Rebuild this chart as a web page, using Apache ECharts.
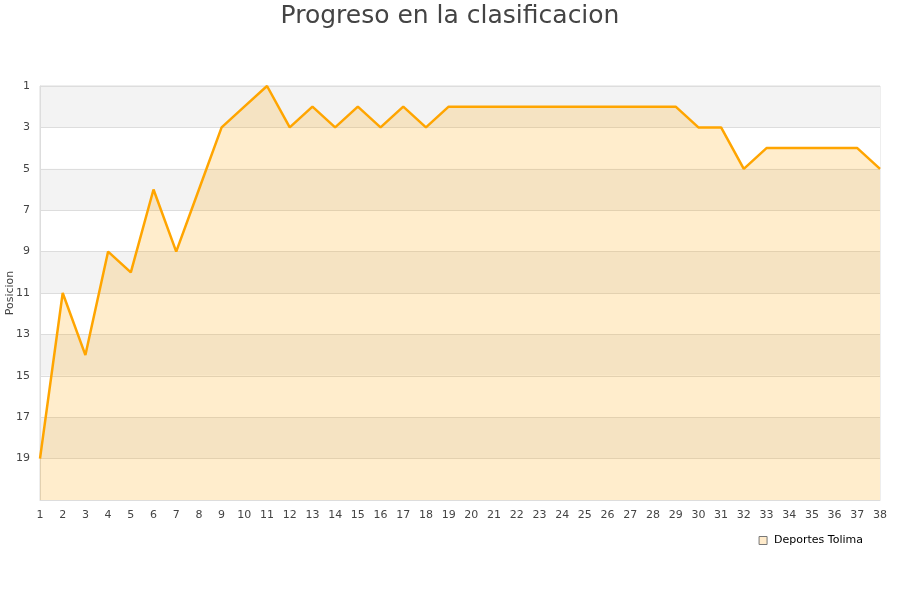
<!DOCTYPE html>
<html><head><meta charset="utf-8">
<script src="https://cdn.jsdelivr.net/npm/echarts@6/dist/echarts.min.js"></script>
<style>html,body{margin:0;padding:0;background:#fff}#c{width:900px;height:600px}</style>
</head><body><div id="c"></div>
<script>
var jornadas = [];
for (var i = 1; i <= 38; i++) jornadas.push(String(i));
var posiciones = [19,11,14,9,10,6,9,6,3,2,1,3,2,3,2,3,2,3,2,2,2,2,2,2,2,2,2,2,2,3,3,5,4,4,4,4,4,5];
var equipo = 'Deportes Tolima';
var chart = echarts.init(document.getElementById('c'));
chart.setOption({
  animation: false,
  title: { text: 'Progreso en la clasificacion', left: 'center', top: -1,
    textStyle: { fontFamily: 'DejaVu Sans', fontSize: 25, fontWeight: 'normal', color: '#444' } },
  grid: { left: 40, right: 20, top: 86, bottom: 100, show: true, borderColor: '#ddd', borderWidth: 1,
    containLabel: false, outerBoundsMode: 'none' },
  legend: { data: [equipo], right: 32, top: 530, icon: 'rect', itemWidth: 8, itemHeight: 8, itemGap: 6,
    itemStyle: { color: '#FFEBCB', borderColor: '#777', borderWidth: 1 },
    textStyle: { fontFamily: 'DejaVu Sans', fontSize: 11, color: '#000', padding: [0, 0, 0, 2] } },
  xAxis: { type: 'category', data: jornadas, boundaryGap: false,
    axisLine: { lineStyle: { color: '#ddd' } }, axisTick: { show: false },
    axisLabel: { color: '#444', fontFamily: 'DejaVu Sans', fontSize: 11, margin: 10 },
    splitLine: { show: false } },
  yAxis: { type: 'value', inverse: true, min: 1, max: 21, interval: 2,
    name: 'Posicion', nameLocation: 'middle', nameGap: 24, nameRotate: 90, nameMoveOverlap: false,
    nameTextStyle: { color: '#444', fontFamily: 'DejaVu Sans', fontSize: 11 },
    axisLine: { show: true, lineStyle: { color: '#ddd' } }, axisTick: { show: false },
    axisLabel: { color: '#444', fontFamily: 'DejaVu Sans', fontSize: 11, margin: 10,
      showMaxLabel: false, formatter: function (v) { return v === 21 ? '' : v; } },
    splitLine: { show: true, lineStyle: { color: '#ddd' } },
    splitArea: { show: true, areaStyle: { color: ['#f3f3f3', '#ffffff'] } } },
  series: [{ name: equipo, type: 'line', data: posiciones, symbol: 'none',
    lineStyle: { color: '#FFA500', width: 2.5 },
    itemStyle: { color: '#FFA500' },
    areaStyle: { color: 'rgba(255,165,0,0.2)', opacity: 1, origin: 'end' } }]
});
</script></body></html>
